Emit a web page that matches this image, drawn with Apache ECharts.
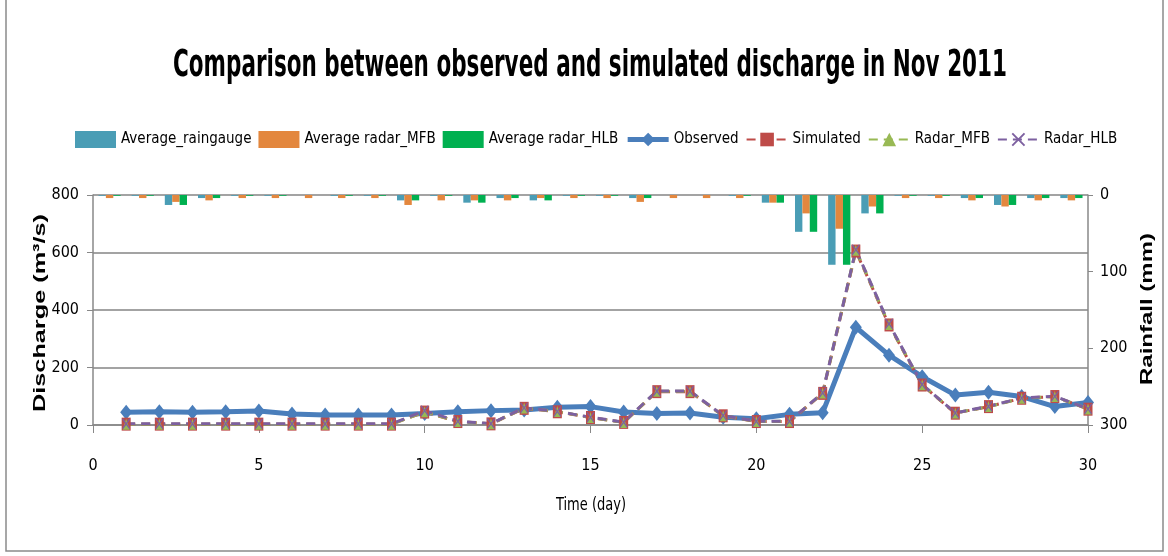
<!DOCTYPE html>
<html><head><meta charset="utf-8">
<script src="https://cdn.jsdelivr.net/npm/echarts@6/dist/echarts.min.js"></script>
<style>html,body{margin:0;padding:0;background:#fff}#c{width:1168px;height:556px}</style>
</head><body><div id="c"></div>
<script>
const days = [1,2,3,4,5,6,7,8,9,10,11,12,13,14,15,16,17,18,19,20,21,22,23,24,25,26,27,28,29,30];
const barCategories = ['1','2','3','4','5','6','7','8','9','10','11','12','13','14','15','16','17','18','19','20','21','22','23','24','25','26','27','28','29','30'];
// rainfall (mm)
const avgRaingauge = [1,1,13,4,1,1,0,1,1,7,1,10,4,7,1,1,4,0,0,1,10,48,91,24,1,1,4,13,4,4];
const avgRadarMFB  = [4,4,9,7,4,4,4,4,4,13,7,7,7,4,4,4,9,4,4,4,10,24,44,15,4,4,7,15,7,7];
const avgRadarHLB  = [1,1,13,4,1,1,0,1,1,7,1,10,4,7,1,1,4,0,0,1,10,48,91,24,1,1,4,13,4,4];
// discharge (m3/s)
const observed  = [44,46,44,46,49,38,35,35,35,40,46,50,52,62,64,45,40,42,27,22,37,43,340,243,168,104,114,99,64,78];
const simulated = [3,3,3,3,3,3,3,3,3,45,12,4,58,46,26,9,116,116,32,12,12,110,605,348,139,41,64,93,99,55];
const radarMFB  = [3,3,3,3,3,3,3,3,3,46,12,4,59,47,26,9,117,117,32,12,13,111,608,350,140,42,64,93,99,56];
const radarHLB  = [4,4,4,4,4,4,4,4,4,50,13,5,60,47,27,10,118,118,33,13,13,112,610,352,141,42,65,94,100,56];
const xTicks = [0,5,10,15,20,25,30];
const leftTicks = [0,200,400,600,800];
const rightTicks = [0,100,200,300];
const titleText = 'Comparison between observed and simulated discharge in Nov 2011';
const xName = 'Time (day)';
const leftName = 'Discharge (m³/s)';
const rightName = 'Rainfall (mm)';

const FONT = '"Liberation Sans Narrow","Arial Narrow","DejaVu Sans Condensed",sans-serif';
const BFONT = '"Liberation Sans","DejaVu Sans",sans-serif';
const pairs = arr => days.map((d,i)=>[d,arr[i]]);
const xMark = 'path://M0,1 L1,0 L5,4 L9,0 L10,1 L6,5 L10,9 L9,10 L5,6 L1,10 L0,9 L4,5 Z';

const mctx = document.createElement('canvas').getContext('2d');
function fitScale(text, font, target){ mctx.font = font; return target / mctx.measureText(text).width; }
const titleFont = 'bold 38px ' + FONT;
const xNameFont = '17px ' + FONT;
const yNameFont = 'bold 17px ' + BFONT;

const chart = echarts.init(document.getElementById('c'), null, {renderer:'canvas'});
chart.setOption({
  backgroundColor:'#ffffff',
  animation:false,
  legend:{
    left:70, top:126, itemWidth:41, itemHeight:17, itemGap:7,
    textStyle:{fontFamily:FONT, fontSize:15, color:'#000'},
    data:[
      {name:'Average_raingauge', icon:'rect'},
      {name:'Average radar_MFB', icon:'rect'},
      {name:'Average radar_HLB', icon:'rect'},
      {name:'Observed', lineStyle:{width:5}},
      'Simulated','Radar_MFB','Radar_HLB']
  },
  graphic:[
    {type:'rect', shape:{x:6,y:-2,width:1157,height:553}, style:{fill:'none', stroke:'#8a8a8a', lineWidth:1.5}, silent:true},
    {type:'text', x:590, y:66, scaleX:fitScale(titleText, titleFont, 834), silent:true,
     style:{text:titleText, font:titleFont, fill:'#000', align:'center', verticalAlign:'middle'}},
    {type:'text', x:591, y:506, scaleX:fitScale(xName, xNameFont, 70), silent:true,
     style:{text:xName, font:xNameFont, fill:'#000', align:'center', verticalAlign:'middle'}},
    {type:'text', x:40, y:313, rotation:Math.PI/2, scaleX:fitScale(leftName, yNameFont, 198), silent:true,
     style:{text:leftName, font:yNameFont, fill:'#000', align:'center', verticalAlign:'middle'}},
    {type:'text', x:1147, y:309, rotation:Math.PI/2, scaleX:fitScale(rightName, yNameFont, 152), silent:true,
     style:{text:rightName, font:yNameFont, fill:'#000', align:'center', verticalAlign:'middle'}}
  ],
  grid:{left:93, right:80, top:195, bottom:131},
  xAxis:[
    {type:'value', min:xTicks[0], max:xTicks[xTicks.length-1], interval:5, position:'bottom',
     axisLine:{onZero:false, lineStyle:{color:'#888', width:1.5}},
     axisTick:{show:true, length:8, inside:false, lineStyle:{color:'#888'}},
     axisLabel:{fontFamily:FONT, fontSize:16, color:'#000', margin:33},
     splitLine:{show:false}},
    {type:'category', data:barCategories, position:'top', boundaryGap:true,
     show:false}
  ],
  yAxis:[
    {type:'value', min:leftTicks[0], max:leftTicks[leftTicks.length-1], interval:200, position:'left',
     axisLine:{show:true, lineStyle:{color:'#888', width:1.5}},
     axisTick:{show:true, length:6, lineStyle:{color:'#888'}},
     axisLabel:{fontFamily:FONT, fontSize:16, color:'#000', margin:14},
     splitLine:{show:true, lineStyle:{color:'#a3a3a3', width:2}}},
    {type:'value', min:rightTicks[0], max:rightTicks[rightTicks.length-1], interval:100, inverse:true, position:'right',
     axisLine:{show:true, lineStyle:{color:'#888', width:1.5}},
     axisTick:{show:true, length:5, lineStyle:{color:'#888'}},
     axisLabel:{fontFamily:FONT, fontSize:16, color:'#000', margin:12},
     splitLine:{show:false}}
  ],
  series:[
    {name:'Average_raingauge', type:'bar', xAxisIndex:1, yAxisIndex:1, data:avgRaingauge,
     barGap:'0%', barCategoryGap:'33%', itemStyle:{color:'#4a9db5'}},
    {name:'Average radar_MFB', type:'bar', xAxisIndex:1, yAxisIndex:1, data:avgRadarMFB,
     barGap:'0%', barCategoryGap:'33%', itemStyle:{color:'#e3873e'}},
    {name:'Average radar_HLB', type:'bar', xAxisIndex:1, yAxisIndex:1, data:avgRadarHLB,
     barGap:'0%', barCategoryGap:'33%', itemStyle:{color:'#00b050'}},
    {name:'Observed', type:'line', xAxisIndex:0, yAxisIndex:0, data:pairs(observed),
     symbol:'diamond', symbolSize:[12,15], lineStyle:{color:'#4a7ebb', width:5},
     itemStyle:{color:'#4a7ebb'}},
    {name:'Simulated', type:'line', xAxisIndex:0, yAxisIndex:0, data:pairs(simulated),
     symbol:'rect', symbolSize:[9,13], lineStyle:{color:'#be4b48', width:3, type:[9,6]},
     itemStyle:{color:'#be4b48'}},
    {name:'Radar_MFB', type:'line', xAxisIndex:0, yAxisIndex:0, data:pairs(radarMFB),
     symbol:'triangle', symbolSize:[7,11], lineStyle:{color:'#98b954', width:3, type:[9,6]},
     itemStyle:{color:'#98b954'}},
    {name:'Radar_HLB', type:'line', xAxisIndex:0, yAxisIndex:0, data:pairs(radarHLB),
     symbol:xMark, symbolSize:[8,11], lineStyle:{color:'#7d60a0', width:3, type:[9,6]},
     itemStyle:{color:'#7d60a0'}}
  ]
});
</script>
</body></html>
